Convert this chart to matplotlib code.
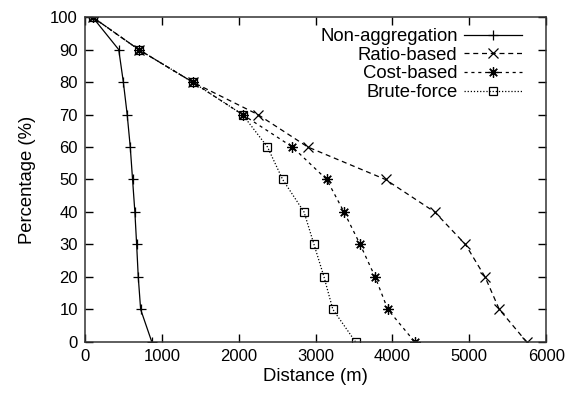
import matplotlib
matplotlib.use("Agg")
import matplotlib.pyplot as plt

plt.rcParams["font.family"] = ["Liberation Sans", "DejaVu Sans"]

# percentage levels shared by every curve
pct = [100, 90, 80, 70, 60, 50, 40, 30, 20, 10, 0]

# distance (m) reached at each percentage level
non_aggregation = [100, 440, 500, 550, 590, 620, 650, 673, 694, 725, 870]
ratio_based     = [100, 700, 1400, 2250, 2900, 3910, 4550, 4950, 5205, 5390, 5745]
cost_based      = [100, 700, 1400, 2050, 2700, 3145, 3370, 3580, 3775, 3940, 4290]
brute_force     = [100, 700, 1400, 2050, 2375, 2572, 2850, 2980, 3110, 3225, 3520]

x_ticks = [0, 1000, 2000, 3000, 4000, 5000, 6000]
y_ticks = [0, 10, 20, 30, 40, 50, 60, 70, 80, 90, 100]

fig = plt.figure(figsize=(5.66, 3.98), dpi=100)
ax = fig.add_axes([0.150, 0.141, 0.815, 0.816])

ax.plot(non_aggregation, pct, color="black", lw=0.9, ls="-",
        marker="+", ms=7.5, mew=0.9, label="Non-aggregation")
ax.plot(ratio_based, pct, color="black", lw=0.9, ls=(0, (4, 3)),
        marker="x", ms=6.5, mew=0.9, label="Ratio-based")
ax.plot(cost_based, pct, color="black", lw=0.9, ls=(0, (2.5, 3)),
        marker=(8, 2, 0), ms=7.5, mew=0.9, label="Cost-based")
ax.plot(brute_force, pct, color="black", lw=0.9, ls=(0, (1, 1.5)),
        marker="s", ms=6, mew=0.9, mfc="none", label="Brute-force")

ax.set_xlim(0, 6000)
ax.set_ylim(0, 100)
ax.set_xticks(x_ticks)
ax.set_yticks(y_ticks)
ax.tick_params(direction="in", length=6, width=1.0, top=True, right=True,
               labelsize=12, pad=5)
for s in ax.spines.values():
    s.set_linewidth(1.1)
    s.set_color("#333333")

ax.set_xlabel("Distance (m)", fontsize=13.3, labelpad=3)
ax.set_ylabel("Percentage (%)", fontsize=13.3, labelpad=10)

leg = ax.legend(loc="upper right", bbox_to_anchor=(0.948, 0.966),
                frameon=False, markerfirst=False, numpoints=1,
                fontsize=13.3, handlelength=3.15, handletextpad=0.35,
                labelspacing=0.09, borderaxespad=0, borderpad=0)
leg._legend_box.align = "right"

fig.savefig("out.png", dpi=100)
